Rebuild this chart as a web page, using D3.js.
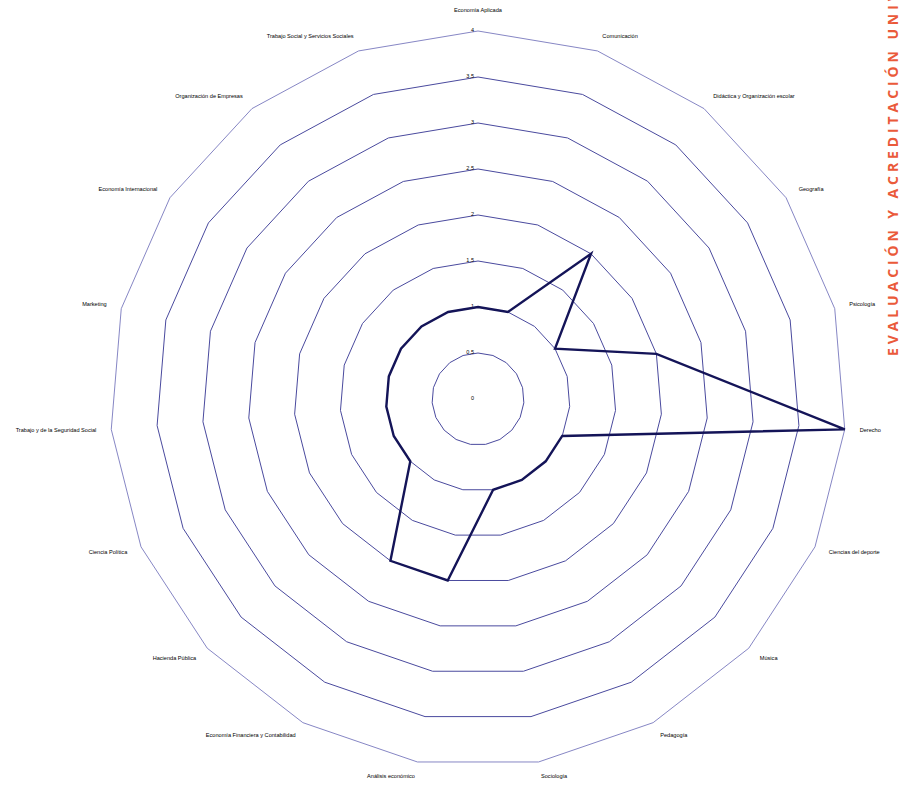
<!DOCTYPE html>
<html><head><meta charset="utf-8">
<script src="https://cdn.jsdelivr.net/npm/d3@7"></script>
<style>html,body{margin:0;padding:0;background:#fff;overflow:hidden}</style>
</head><body>
<svg id="chart" width="899" height="795"></svg>
<script>
const categories = ["Economía Aplicada","Comunicación","Didáctica y Organización escolar","Geografía","Psicología","Derecho","Ciencias del deporte","Música","Pedagogía","Sociología","Análisis económico","Economía Financiera y Contabilidad","Hacienda Pública","Ciencia Política","Trabajo y de la Seguridad Social","Marketing","Economía Internacional","Organización de Empresas","Trabajo Social y Servicios Sociales"];
const values = [1,1,2,1,2,4,1,1,1,1,2,2,1,1,1,1,1,1,1];
const ticks = [0,0.5,1,1.5,2,2.5,3,3.5,4];
const tickLabels = ["0","0,5","1","1,5","2","2,5","3","3,5","4"];
const sideText = "EVALUACIÓN Y ACREDITACIÓN UNIVERSITARIA";

const svg = d3.select("#chart");
const cx = 478, cy = 399, R = 368;
const n = categories.length;
const ang = d3.scaleLinear().domain([0, n]).range([0, 2*Math.PI]);
const r = d3.scaleLinear().domain([0, 4]).range([0, R]);
const pt = (i, rad) => [cx + rad*Math.sin(ang(i)), cy - rad*Math.cos(ang(i))];

const g = svg.append("g");
// grid rings
ticks.filter(t => t > 0).forEach(t => {
  g.append("path")
    .attr("d", d3.line()(d3.range(n).map(i => pt(i, r(t)))) + "Z")
    .attr("fill", "none")
    .attr("stroke", t === 4 ? "#7878bd" : "#4a4a9e")
    .attr("stroke-width", t === 4 ? 0.9 : 1);
});
// tick labels
g.selectAll("text.tick").data(ticks).enter().append("text")
  .attr("class","tick")
  .attr("x", cx - 4)
  .attr("y", d => cy - r(d))
  .attr("text-anchor", "end")
  .attr("dominant-baseline", "middle")
  .attr("font-family", "Liberation Sans, Arial, sans-serif")
  .attr("font-size", 5.5)
  .attr("fill", "#000")
  .text((d,i) => tickLabels[i]);
// category labels
g.selectAll("text.cat").data(categories).enter().append("text")
  .attr("class","cat")
  .each(function(d, i) {
    const s = Math.sin(ang(i)), c = Math.cos(ang(i));
    const [x, y] = pt(i, 383 + (c > 0.99 ? 5 : 0));
    d3.select(this).attr("x", x).attr("y", y)
      .attr("text-anchor", s > 0.01 ? "start" : (s < -0.01 ? "end" : "middle"));
  })
  .attr("dominant-baseline", "middle")
  .attr("font-family", "Liberation Sans, Arial, sans-serif")
  .attr("font-size", 5.6)
  .attr("fill", "#000")
  .text(d => d);
// data line
g.append("path")
  .attr("d", d3.line()(values.map((v, i) => pt(i, r(v)))) + "Z")
  .attr("fill", "none")
  .attr("stroke", "#141458")
  .attr("stroke-width", 2.4)
  .attr("stroke-linejoin", "miter");
// side text
svg.append("text")
  .attr("transform", "translate(898,356) rotate(-90)")
  .attr("font-family", "Open Sans, DejaVu Sans, sans-serif")
  .attr("font-weight", "bold")
  .attr("font-size", 14)
  .attr("letter-spacing", 3.9)
  .attr("fill", "#ea5a3a")
  .text(sideText);
</script>
</body></html>
